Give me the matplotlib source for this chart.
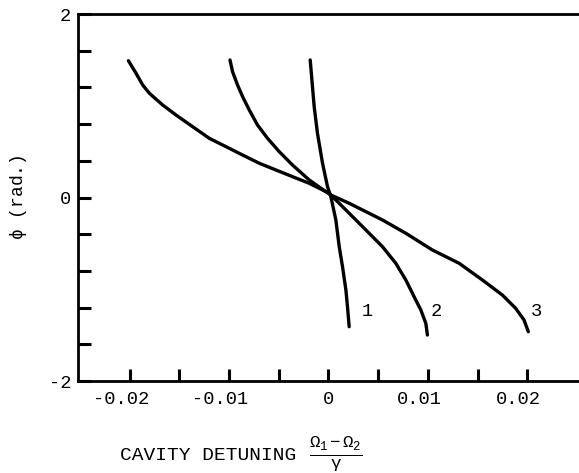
import numpy as np
import matplotlib.pyplot as plt
import matplotlib.transforms as mtransforms

plt.rcParams['font.family'] = ['Liberation Mono', 'DejaVu Sans Mono']
plt.rcParams['mathtext.fontset'] = 'custom'
plt.rcParams['mathtext.rm'] = 'Liberation Mono'
plt.rcParams['mathtext.it'] = 'Liberation Mono'

# curves (detuning, phase in rad)
x1 = [-0.00184, -0.00167, -0.00144, -0.00111, -0.00060, -0.00010, 0.00024,
      0.00074, 0.00108, 0.00141, 0.00175, 0.00191, 0.00208]
y1 = [1.499, 1.281, 0.990, 0.700, 0.373, 0.118, 0.009,
      -0.245, -0.536, -0.754, -1.008, -1.190, -1.408]

x2 = [-0.00991, -0.00965, -0.00915, -0.00864, -0.00797, -0.00714, -0.00613,
      -0.00495, -0.00362, -0.00194, -0.00026, 0.00024, 0.00208, 0.00376,
      0.00543, 0.00677, 0.00778, 0.00861, 0.00929, 0.00979, 0.00995]
y2 = [1.499, 1.371, 1.226, 1.099, 0.954, 0.790, 0.645,
      0.499, 0.354, 0.191, 0.063, 0.027, -0.172, -0.354,
      -0.536, -0.717, -0.899, -1.081, -1.226, -1.371, -1.499]

x3 = [-0.02013, -0.01936, -0.01869, -0.01802, -0.01668, -0.01534, -0.01367,
      -0.01199, -0.01031, -0.00864, -0.00696, -0.00529, -0.00362, -0.00194,
      0.00007, 0.00024, 0.00208, 0.00543, 0.00778, 0.01045, 0.01314,
      0.01548, 0.01749, 0.01883, 0.01967, 0.02010]
y3 = [1.491, 1.354, 1.226, 1.136, 1.008, 0.899, 0.772,
      0.645, 0.554, 0.463, 0.373, 0.300, 0.227, 0.155,
      0.046, 0.027, -0.063, -0.245, -0.390, -0.572, -0.717,
      -0.899, -1.063, -1.208, -1.335, -1.463]

curve_labels = ['1', '2', '3']
label_x = [0.0033, 0.0103, 0.0204]
label_y = [-1.24, -1.24, -1.24]

xticks = [-0.02, -0.015, -0.01, -0.005, 0, 0.005, 0.01, 0.015, 0.02]
xticklabels = ['-0.02', '', '-0.01', '', '0', '', '0.01', '', '0.02']
yticks = [-2, -1.6, -1.2, -0.8, -0.4, 0, 0.4, 0.8, 1.2, 1.6, 2]
yticklabels = ['-2', '', '', '', '', '0', '', '', '', '', '2']

fig = plt.figure(figsize=(5.79, 4.73), dpi=100)
ax = fig.add_axes([0.1347, 0.1945, 0.8653, 0.7759])

for xs, ys in [(x1, y1), (x2, y2), (x3, y3)]:
    ax.plot(xs, ys, color='black', lw=2.4, solid_capstyle='round',
            solid_joinstyle='round')

for lab, lx, ly in zip(curve_labels, label_x, label_y):
    ax.text(lx, ly, lab, fontsize=13.5, ha='left', va='center')

ax.set_xlim(-0.0252, 0.0252)
ax.set_ylim(-2, 2)
ax.spines['right'].set_visible(False)
for s in ['left', 'top', 'bottom']:
    ax.spines[s].set_linewidth(2.0)

ax.set_xticks(xticks)
ax.set_xticklabels(xticklabels, fontsize=13.5)
ax.set_yticks(yticks)
ax.set_yticklabels(yticklabels, fontsize=13.5)
ax.tick_params(axis='both', direction='in', length=9, width=2.2)
ax.tick_params(axis='x', pad=7)
ax.tick_params(axis='y', pad=5)

# tick labels in the original sit a bit left of their ticks
shift = mtransforms.ScaledTranslation(-9 / 100, 0, fig.dpi_scale_trans)
for t in ax.get_xticklabels():
    if t.get_text() not in ('', '0'):
        t.set_transform(t.get_transform() + shift)

ax.set_ylabel(r'$\phi$ (rad.)', fontsize=13, labelpad=14)

fig.text(0.207, 0.038, 'CAVITY DETUNING', fontsize=14, ha='left', va='center')
fig.text(0.533, 0.042, r'$\frac{\Omega_1-\Omega_2}{\gamma}$', fontsize=18,
         ha='left', va='center')

fig.savefig('out.png', dpi=100)
